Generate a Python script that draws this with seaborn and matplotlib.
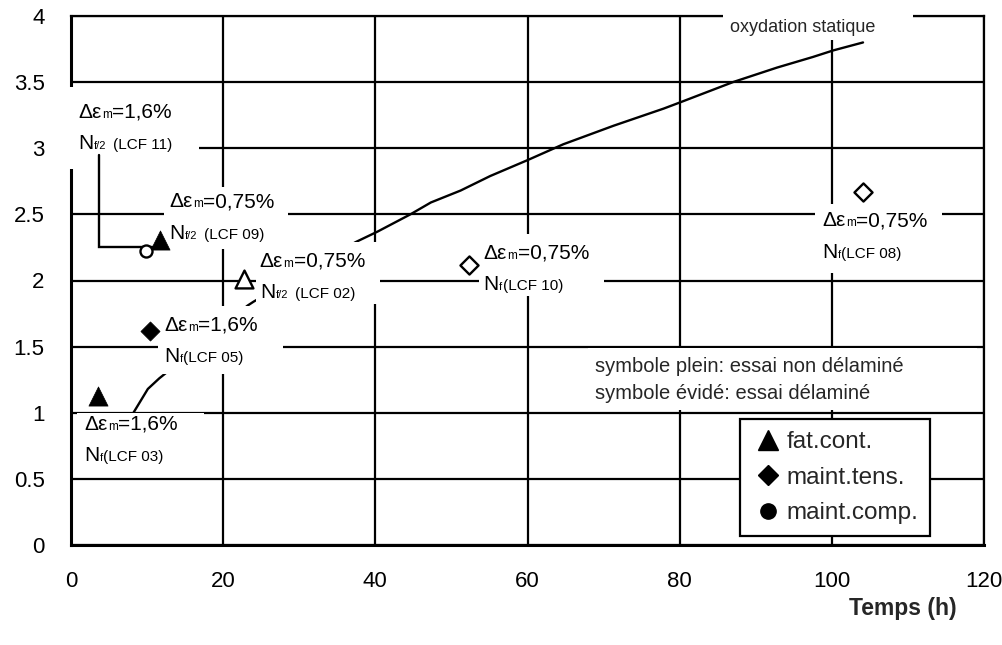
import matplotlib
matplotlib.use("Agg")
import matplotlib.pyplot as plt
import seaborn as sns
import pandas as pd
from matplotlib.patches import Rectangle
from matplotlib.lines import Line2D
from matplotlib.offsetbox import TextArea, HPacker, VPacker, AnnotationBbox

# ---------------- data ----------------
curve_t = [8.1, 10.1, 11.6, 12.9, 23.2, 24.0, 37.4, 40.3, 44.6, 47.3, 51.2, 55.1,
           60.0, 64.7, 71.3, 77.9, 80.2, 87.0, 92.8, 97.5, 100.2, 104.1]
curve_v = [0.99, 1.18, 1.26, 1.32, 1.81, 1.84, 2.29, 2.37, 2.50, 2.59, 2.68, 2.79,
           2.91, 3.03, 3.17, 3.30, 3.35, 3.50, 3.61, 3.69, 3.74, 3.80]
curve_label = "oxydation statique"

pt_t = [3.5, 10.4, 11.7, 9.8, 22.7, 52.3, 104.1]
pt_v = [1.13, 1.62, 2.31, 2.22, 2.01, 2.12, 2.67]
pt_type = ["fat.cont.", "maint.tens.", "fat.cont.", "maint.comp.",
           "fat.cont.", "maint.tens.", "maint.tens."]
pt_filled = [True, True, True, False, False, False, False]

lab_strain = ["1,6%", "0,75%", "0,75%", "1,6%", "1,6%", "0,75%", "0,75%"]
lab_n = ["f/2", "f/2", "f/2", "f", "f", "f", "f"]
lab_lcf = ["LCF 11", "LCF 09", "LCF 02", "LCF 05", "LCF 03", "LCF 10", "LCF 08"]

x_ticks = [0, 20, 40, 60, 80, 100, 120]
y_ticks = [0, 0.5, 1, 1.5, 2, 2.5, 3, 3.5, 4]
x_title = "Temps (h)"
note_lines = ["symbole plein: essai non délaminé", "symbole évidé: essai délaminé"]
legend_labels = ["fat.cont.", "maint.tens.", "maint.comp."]

# ---------------- layout / style ----------------
lab_pos = [(0.92, 3.153), (12.87, 2.476), (24.81, 2.026), (12.21, 1.543),
           (1.71, 0.794), (54.22, 2.087), (98.73, 2.333)]
lab_rect = [(-0.3, 16.8, 2.84, 3.46), (12.2, 28.5, 2.24, 2.71), (24.3, 40.6, 1.82, 2.29),
            (11.4, 27.8, 1.29, 1.81), (0.8, 17.5, 0.54, 1.0), (53.6, 70.0, 1.88, 2.35),
            (97.8, 114.5, 2.06, 2.58)]
note_rect = (67.9, 119.1, 1.02, 1.49)
curve_rect = (85.7, 110.7, 3.82, 4.1)
leader = ([3.7, 3.7, 12.6], [2.95, 2.253, 2.253])

marker_of = {"fat.cont.": "^", "maint.tens.": "D", "maint.comp.": "o"}
size_filled = {"fat.cont.": 190, "maint.tens.": 95, "maint.comp.": 80}
size_open = {"fat.cont.": 165, "maint.tens.": 85, "maint.comp.": 75}

sns.set_theme(style="white")
FONT = "Liberation Sans"
plt.rcParams["font.family"] = [FONT, "DejaVu Sans"]

fig = plt.figure(figsize=(10.03, 6.45), dpi=100)
ax = fig.add_axes([71 / 1003, 100 / 645, 913 / 1003, 529 / 645])

# curve
sns.lineplot(x=curve_t, y=curve_v, color="black", linewidth=1.7, sort=False,
             estimator=None, ax=ax, zorder=2)

# points
df = pd.DataFrame(dict(t=pt_t, v=pt_v, type=pt_type, filled=pt_filled))
for typ, mk in marker_of.items():
    sub = df[(df["type"] == typ) & (df["filled"])]
    if len(sub):
        sns.scatterplot(data=sub, x="t", y="v", marker=mk, s=size_filled[typ],
                        color="black", edgecolor="black", linewidth=0.5,
                        legend=False, ax=ax, zorder=6)
    sub = df[(df["type"] == typ) & (~df["filled"])]
    if len(sub):
        sns.scatterplot(data=sub, x="t", y="v", marker=mk, s=size_open[typ],
                        color="white", edgecolor="black", linewidth=1.7,
                        legend=False, ax=ax, zorder=6)

ax.set_xlim(0, 120)
ax.set_ylim(0, 4)
ax.set_xticks(x_ticks)
ax.set_yticks(y_ticks)
ax.set_xticklabels([str(v) for v in x_ticks])
ax.set_yticklabels([("%g" % v) for v in y_ticks])
ax.set_xlabel("")
ax.set_ylabel("")
ax.tick_params(axis="both", length=0, labelsize=16, colors="black")
ax.tick_params(axis="x", pad=19)
ax.tick_params(axis="y", pad=19)
ax.grid(True, color="black", linewidth=1.6)
ax.set_axisbelow(True)
for side, sp in ax.spines.items():
    sp.set_visible(True)
    sp.set_color("black")
    sp.set_linewidth(2.2 if side in ("left", "bottom") else 1.6)

# white boxes behind annotations
def white_box(r):
    x0, x1, y0, y1 = r
    ax.add_patch(Rectangle((x0, y0), x1 - x0, y1 - y0, facecolor="white",
                           edgecolor="none", zorder=3, clip_on=False))

for r in lab_rect:
    white_box(r)
white_box(note_rect)
white_box(curve_rect)

def ta(s, size):
    return TextArea(s, textprops=dict(fontsize=size, family=FONT, color="black"))

# annotation labels
for (x, y), s, n, lcf in zip(lab_pos, lab_strain, lab_n, lab_lcf):
    l1 = HPacker(children=[ta("Δε", 15), ta("m", 8.5), ta("=" + s, 15)],
                 align="baseline", pad=0, sep=0.3)
    if "/" in n:
        l2 = HPacker(children=[HPacker(children=[ta("N", 15), ta(n, 8)], align="baseline",
                                       pad=0, sep=0.3), ta("(" + lcf + ")", 11)],
                     align="baseline", pad=0, sep=5)
    else:
        l2 = HPacker(children=[ta("N", 15), ta(n, 8), ta("(" + lcf + ")", 11)],
                     align="baseline", pad=0, sep=0.3)
    box = VPacker(children=[l1, l2], align="left", pad=0, sep=9)
    ab = AnnotationBbox(box, (x, y), xycoords="data", box_alignment=(0, 0.5),
                        frameon=False, pad=0, annotation_clip=False)
    ab.set_zorder(5)
    ax.add_artist(ab)

# leader line
ax.plot(leader[0], leader[1], color="black", linewidth=1.7, zorder=4,
        solid_joinstyle="miter")

# curve label
ax.text(96.2, 3.91, curve_label, fontsize=13, ha="center", va="center",
        zorder=5, clip_on=False)

# note
ax.text(68.9, 1.353, note_lines[0], fontsize=14.5, ha="left", va="center", zorder=5)
ax.text(68.9, 1.142, note_lines[1], fontsize=14.5, ha="left", va="center", zorder=5)

# legend
handles = [Line2D([], [], linestyle="none", marker="^", markersize=14, color="black"),
           Line2D([], [], linestyle="none", marker="D", markersize=10, color="black"),
           Line2D([], [], linestyle="none", marker="o", markersize=11, color="black")]
leg = ax.legend(handles, legend_labels, loc="upper left", bbox_to_anchor=(0.733, 0.238),
                fontsize=17.5, frameon=True, fancybox=False, framealpha=1,
                edgecolor="black", borderaxespad=0, borderpad=0.5, labelspacing=0.55,
                handlelength=1.25, handletextpad=0.15)
leg.get_frame().set_linewidth(1.6)
leg.set_zorder(7)

fig.text(903 / 1003, 1 - 608 / 645, x_title, fontsize=16.5, fontweight="bold",
         ha="center", va="center")

fig.savefig("out.png", dpi=100)
